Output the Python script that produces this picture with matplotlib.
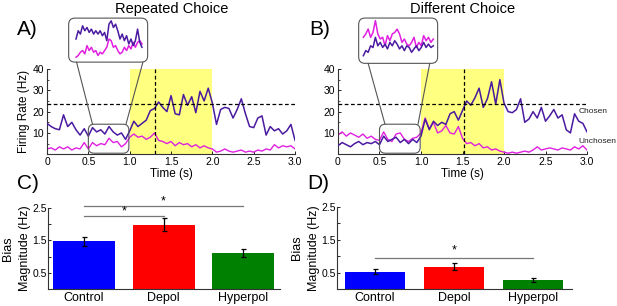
import numpy as np
import matplotlib
matplotlib.use("Agg")
import matplotlib.pyplot as plt
from matplotlib.patches import FancyBboxPatch, ConnectionPatch
from matplotlib.ticker import FixedLocator

plt.rcParams.update({
    "font.family": ["Liberation Sans", "DejaVu Sans"],
    "font.size": 8,
    "axes.spines.top": False,
    "axes.spines.right": False,
    "axes.edgecolor": "#333333",
    "axes.linewidth": 0.8,
    "xtick.direction": "in",
    "ytick.direction": "in",
    "xtick.labelsize": 7.5,
    "ytick.labelsize": 7.5,
})

# ---------------- data ----------------
time_s = np.linspace(0, 3.0, 61)

chosen_rep = [14.5, 13, 12, 11.5, 18.5, 13, 15, 11.5, 9, 12, 8.5, 12.5, 10.5, 11.5, 9.5, 13, 10.5, 9, 10, 7, 11,
              15.5, 13, 14.5, 16, 20.5, 21.5, 24.5, 22, 20, 27.5, 19, 18.5, 28, 23, 27, 19.5, 29.5, 25, 31, 24,
              14, 21, 22, 21.5, 17, 21, 26, 19, 13, 12.5, 17, 18, 9, 13, 11, 12, 9.5, 11, 14, 6.5]
unchosen_rep = [2.5, 3, 2, 3.5, 2.5, 3.5, 2, 3, 2.5, 5.5, 2.5, 5.5, 4, 5, 4.5, 7.5, 5.5, 6, 3.5, 5, 8,
                9.5, 8, 8.5, 7, 8, 10, 6.5, 6, 5, 6, 4, 5.5, 4.5, 5, 3.5, 4.5, 3, 4, 3, 2.5,
                1, 1.5, 2.5, 1.5, 1, 1.5, 2, 1, 1.5, 1, 2, 1.5, 2.5, 2, 4.5, 3, 4, 3.5, 4, 2.5]
chosen_diff = [4, 5.5, 4.5, 3.5, 5, 6, 4.5, 5.5, 5, 6, 4.5, 8.5, 6, 7, 8, 5.5, 7, 5, 7, 5.5, 8.5,
               16.5, 11.5, 15.5, 13.5, 15, 14, 19, 20, 16, 20.5, 25, 23, 26.5, 31, 22, 26, 34, 23.5, 35, 24,
               20, 19.5, 21, 26, 15, 16.5, 20, 17, 22, 15.5, 18, 21, 17, 18.5, 11.5, 10, 19, 15.5, 14.5, 10.5]
unchosen_diff = [9, 10.5, 8.5, 10, 9, 8, 9.5, 7.5, 8.5, 7, 6.5, 10.5, 7, 6, 9.5, 10, 7, 6, 7.5, 8, 10,
                 17, 12, 15, 10, 11, 13.5, 10, 9.5, 13, 7.5, 5, 5.5, 4, 5, 3, 3.5, 2, 2.5, 1.5, 1,
                 0.5, 1, 0.5, 1, 1.5, 1, 2, 3.5, 2, 2.5, 3, 2.5, 2, 3, 2.5, 2, 3.5, 2.5, 4, 2]

# magnified views of the 0.5-1.0 s window
inset_t_rep = np.linspace(0, 1, 31)
inset_chosen_rep = [8.4, 11.4, 10.2, 13.2, 11.4, 12.6, 10.8, 12.0, 10.2, 11.4, 10.2, 11.4, 9.6, 10.8, 7.8, 13.8,
                    15.0, 12.6, 13.8, 11.4, 8.4, 10.2, 7.8, 9.6, 6.6, 8.4, 6.0, 7.8, 12.0, 7.2, 5.4]
inset_unchosen_rep = [1.8, 2.4, 3.6, 4.2, 3.0, 6.0, 4.2, 5.4, 3.6, 4.2, 2.4, 3.6, 3.0, 4.2, 5.4, 8.4,
                      7.8, 5.4, 6.0, 4.2, 3.0, 3.6, 5.4, 4.2, 6.0, 4.8, 7.2, 5.4, 7.2, 7.8, 6.6]
inset_t_diff = np.linspace(0, 1, 30)
inset_chosen_diff = [2.7, 4.5, 3.9, 6.2, 5.6, 9.2, 6.2, 7.4, 5.6, 6.8, 5.1, 7.4, 6.2, 8.0, 6.8, 5.1,
                     6.2, 4.5, 6.2, 5.6, 3.9, 5.1, 6.2, 4.5, 5.6, 7.4, 5.6, 6.8, 5.6, 6.2]
inset_unchosen_diff = [9.2, 10.4, 12.1, 9.2, 10.9, 15.1, 10.4, 8.6, 9.2, 6.2, 9.8, 8.0, 10.4, 10.9, 12.1, 10.4,
                       7.4, 8.6, 6.8, 6.2, 7.4, 9.2, 5.6, 7.4, 6.2, 9.8, 8.0, 9.2, 7.4, 8.6]

threshold = 23.5
decision_rep = 1.31
decision_diff = 1.52

groups = ["Control", "Depol", "Hyperpol"]
bias_rep = [1.47, 1.99, 1.11]
bias_rep_err = [0.13, 0.20, 0.12]
bias_diff = [0.52, 0.68, 0.28]
bias_diff_err = [0.08, 0.10, 0.06]

PURPLE = "#4A1AA0"
MAGENTA = "#E020E0"
YELLOW = "#FFFF80"
BAR_COLORS = ["#0000FF", "#FF0000", "#008000"]
GRAY = "#555555"

fig = plt.figure(figsize=(6.17, 3.06), dpi=100)


def trace_panel(rect, chosen, unchosen, t_dec, ylabel):
    ax = fig.add_axes(rect)
    ax.axvspan(1.0, 2.0, ymin=0, ymax=1, color=YELLOW, lw=0, zorder=0)
    ax.plot(time_s, chosen, color=PURPLE, lw=1.1, zorder=3)
    ax.plot(time_s, unchosen, color=MAGENTA, lw=1.0, zorder=2)
    ax.axhline(threshold, color="black", lw=0.9, ls=(0, (3, 2)), zorder=4)
    ax.axvline(t_dec, color="black", lw=0.9, ls=(0, (3, 2)), zorder=4)
    ax.set_xlim(0, 3.0)
    ax.set_ylim(0, 40)
    ax.set_xticks([0, 0.5, 1.0, 1.5, 2.0, 2.5, 3.0])
    ax.set_xticklabels(["0", "0.5", "1.0", "1.5", "2.0", "2.5", "3.0"])
    ax.set_yticks([10, 20, 30, 40])
    ax.yaxis.set_minor_locator(FixedLocator([5, 15, 25, 35]))
    ax.tick_params(length=2.5, width=0.6, pad=2)
    ax.tick_params(which="minor", length=1.5, width=0.5)
    ax.set_xlabel("Time (s)", fontsize=8.5, labelpad=1)
    if ylabel:
        ax.set_ylabel(ylabel, fontsize=8.5, labelpad=2)
    # zoom box on main trace
    box = FancyBboxPatch((0.5, 0.5), 0.49, 13.6, boxstyle="round,pad=0,rounding_size=0.07",
                         mutation_aspect=39, fc="none", ec=GRAY, lw=0.8, zorder=5)
    ax.add_patch(box)
    return ax


def inset_panel(rect, t, chosen, unchosen, xlim, ax_main, a_starts, b_ends):
    ins = fig.add_axes(rect)
    ins.plot(t, unchosen, color=MAGENTA, lw=1.1)
    ins.plot(t, chosen, color=PURPLE, lw=1.1)
    ins.set_xlim(*xlim)
    ins.set_ylim(0, 16)
    ins.axis("off")
    frame = FancyBboxPatch((0, 0), 1, 1, boxstyle="round,pad=0,rounding_size=0.08",
                           mutation_aspect=1.8, transform=ins.transAxes, fc="none",
                           ec=GRAY, lw=0.8, clip_on=False)
    ins.add_artist(frame)
    for xa, xb in zip(a_starts, b_ends):
        con = ConnectionPatch(xyA=(xa, 0), coordsA=ins.transAxes, xyB=(xb, 14.1),
                              coordsB=ax_main.transData, color=GRAY, lw=0.8)
        fig.add_artist(con)
    return ins


axA = trace_panel([0.0762, 0.4958, 0.402, 0.2788], chosen_rep, unchosen_rep, decision_rep, "Firing Rate (Hz)")
axB = trace_panel([0.5478, 0.4958, 0.4036, 0.2788], chosen_diff, unchosen_diff, decision_diff, None)

inset_panel([0.1113, 0.797, 0.128, 0.1438], inset_t_rep, inset_chosen_rep, inset_unchosen_rep,
            (-0.111, 1.086), axA, [0.1, 0.94], [0.55, 0.955])
inset_panel([0.5813, 0.793, 0.128, 0.148], inset_t_diff, inset_chosen_diff, inset_unchosen_diff,
            (-0.067, 1.062), axB, [0.12, 0.9], [0.566, 0.964])

axB.text(2.90, 20, "Chosen", fontsize=6.0, color="#222222", va="center", ha="left", clip_on=False)
axB.text(2.90, 5.9, "Unchosen", fontsize=6.0, color="#222222", va="center", ha="left", clip_on=False)


def bar_panel(rect, vals, errs, xlim, width):
    ax = fig.add_axes(rect)
    x = np.arange(1, len(groups) + 1)
    ax.bar(x, vals, width=width, color=BAR_COLORS, lw=0, zorder=2)
    ax.errorbar(x, vals, yerr=errs, fmt="none", ecolor="black", elinewidth=0.9,
                capsize=1.8, capthick=0.9, zorder=3)
    ax.set_xlim(*xlim)
    ax.set_ylim(0, 2.5)
    ax.set_xticks(x)
    ax.set_xticklabels(groups, fontsize=9)
    ax.set_yticks([0.5, 1.5, 2.5])
    ax.yaxis.set_minor_locator(FixedLocator([1.0, 2.0]))
    ax.tick_params(axis="x", length=0, pad=2)
    ax.tick_params(axis="y", length=2.5, width=0.6, pad=1)
    ax.tick_params(which="minor", length=2.5, width=0.6)
    ax.set_ylabel("Bias\nMagnitude (Hz)", fontsize=9, labelpad=1, linespacing=1.5)
    return ax


axC = bar_panel([0.0778, 0.0556, 0.376, 0.2647], bias_rep, bias_rep_err, (0.547, 3.465), 0.78)
axD = bar_panel([0.5462, 0.0556, 0.381, 0.269], bias_diff, bias_diff_err, (0.52, 3.49), 0.76)

# significance markers
axC.plot([1, 3], [2.57, 2.57], color="#777777", lw=0.9, clip_on=False)
axC.text(2, 2.70, "*", ha="center", va="center", fontsize=9, clip_on=False)
axC.plot([1, 2], [2.26, 2.26], color="#777777", lw=0.9, clip_on=False)
axC.text(1.5, 2.40, "*", ha="center", va="center", fontsize=9, clip_on=False)
axD.plot([1, 3], [0.93, 0.93], color="#777777", lw=0.9)
axD.text(2, 1.18, "*", ha="center", va="center", fontsize=9)

# titles and panel letters
fig.text(0.279, 0.972, "Repeated Choice", ha="center", va="center", fontsize=10.5)
fig.text(0.749, 0.972, "Different Choice", ha="center", va="center", fontsize=10.5)
for xf, yf, lab in [(0.027, 0.905, "A)"), (0.502, 0.905, "B)"), (0.027, 0.40, "C)"), (0.498, 0.40, "D)")]:
    fig.text(xf, yf, lab, fontsize=15, ha="left", va="center")

fig.savefig("out.png", dpi=100)
